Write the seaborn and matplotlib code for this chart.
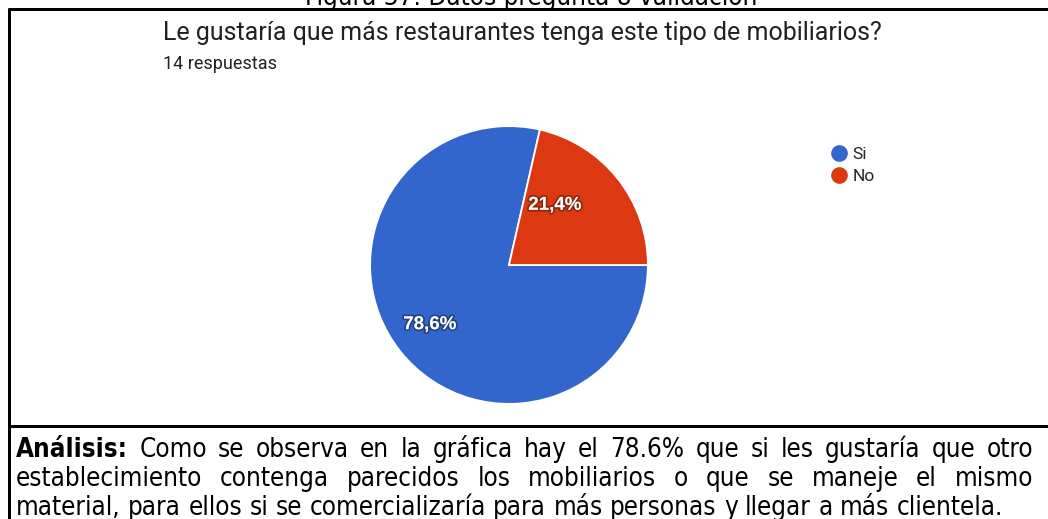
import matplotlib
matplotlib.use("Agg")
import matplotlib.pyplot as plt
import matplotlib.patheffects as pe
from matplotlib import font_manager as fm
from matplotlib.lines import Line2D
import seaborn as sns

# --- data -------------------------------------------------------------
categories = ["Si", "No"]
counts = [11, 3]
colors = ["#3366cc", "#dc3912"]

caption = "Figura 37: Datos pregunta 8 validación"
question = "Le gustaría que más restaurantes tenga este tipo de mobiliarios?"
responses = "14 respuestas"
analysis_lines = [
    "Análisis: Como se observa en la gráfica hay el 78.6% que si les gustaría que otro",
    "establecimiento contenga parecidos los mobiliarios o que se maneje el mismo",
    "material, para ellos si se comercializaría para más personas y llegar a más clientela.",
]

# --- setup ------------------------------------------------------------
sns.set_theme(style="white")
W, H = 1048, 519
fig = plt.figure(figsize=(W / 100, H / 100), dpi=100)
fig.patch.set_facecolor("white")

installed = {f.name for f in fm.fontManager.ttflist}
ui_font = "Roboto" if "Roboto" in installed else "DejaVu Sans"
label_font = "Liberation Sans" if "Liberation Sans" in installed else "DejaVu Sans"
if "Liberation Sans Narrow" in installed:
    body_family, body_stretch = "Liberation Sans Narrow", "normal"
else:
    body_family, body_stretch = "DejaVu Sans", "condensed"


def fx(px):
    return px / W


def fy(py):
    return 1 - py / H


renderer = fig.canvas.get_renderer()


def width_of(s, **kw):
    t = fig.text(0, 0, s, **kw)
    w = t.get_window_extent(renderer).width
    t.remove()
    return w


# body font size chosen so the last analysis line spans its column
probe = width_of(analysis_lines[2], fontsize=20, family=body_family, fontstretch=body_stretch)
body_size = 20 * 987 / probe

# --- frame lines ------------------------------------------------------
lw = 3 * 72 / 100
for (x0, y0, x1, y1) in [(8, 8.5, W, 8.5), (8.5, 8, 8.5, H), (8, 426, W, 426)]:
    fig.add_artist(Line2D([fx(x0), fx(x1)], [fy(y0), fy(y1)], color="black",
                          lw=lw, transform=fig.transFigure, solid_capstyle="butt"))

# caption above the frame (runs off the top edge)
fig.text(fx(531), fy(5), caption, ha="center", va="baseline",
         fontsize=body_size, family=body_family, fontstretch=body_stretch, color="black")

# --- question header --------------------------------------------------
fig.text(fx(163), fy(40), question, ha="left", va="baseline",
         fontsize=18, family=ui_font, color="#212121")
fig.text(fx(163), fy(69), responses, ha="left", va="baseline",
         fontsize=13, family=ui_font, color="#212121")

# --- pie --------------------------------------------------------------
cx, cy, half = 509, 265, 150
ax = fig.add_axes([fx(cx - half), fy(cy + half), 2 * half / W, 2 * half / H])

start = 360 * counts[1] / sum(counts)
wedges, _, autotexts = ax.pie(
    counts, colors=colors, startangle=start, counterclock=True,
    autopct=lambda p: f"{p:.1f}%".replace(".", ","),
    wedgeprops=dict(edgecolor="white", linewidth=1.3),
    radius=1.0,
)
ax.set_xlim(-1.08, 1.08)
ax.set_ylim(-1.08, 1.08)
ax.axis("off")
for w in wedges:
    w.set_clip_on(False)
label_xy = [(-0.57, -0.43), (0.33, 0.43)]
for t, xy in zip(autotexts, label_xy):
    t.set_position(xy)
    t.set_color("white")
    t.set_fontsize(13.5)
    t.set_fontweight("bold")
    t.set_family(label_font)
    t.set_path_effects([pe.withStroke(linewidth=2.5, foreground=(0, 0, 0, 0.35))])

# --- legend -----------------------------------------------------------
handles = [Line2D([], [], marker="o", ls="none", markersize=11,
                  markerfacecolor=c, markeredgecolor=c) for c in colors]
fig.legend(handles, categories, loc="upper left",
           bbox_to_anchor=(fx(828), fy(147)), frameon=False,
           prop=dict(family=ui_font, size=12.5), handletextpad=0.1,
           labelspacing=0.4, borderaxespad=0, borderpad=0, handlelength=1.3)

# --- analysis paragraph (justified) ------------------------------------
left, right = 16, 1033
baselines = [457, 486, 515]
for i, (line, base) in enumerate(zip(analysis_lines, baselines)):
    words = line.split(" ")
    styles = []
    for j, wd in enumerate(words):
        bold = (i == 0 and j == 0)
        styles.append(dict(fontsize=body_size, family=body_family,
                           fontstretch=body_stretch,
                           fontweight="bold" if bold else "normal"))
    widths = [width_of(wd, **st) for wd, st in zip(words, styles)]
    if i < len(analysis_lines) - 1:
        gap = (right - left - sum(widths)) / (len(words) - 1)
    else:
        gap = width_of("a b", **styles[0]) - width_of("ab", **styles[0])
    x = left
    for wd, st, wpx in zip(words, styles, widths):
        fig.text(fx(x), fy(base), wd, ha="left", va="baseline", color="black", **st)
        x += wpx + gap

fig.savefig("out.png", dpi=100, facecolor="white")
